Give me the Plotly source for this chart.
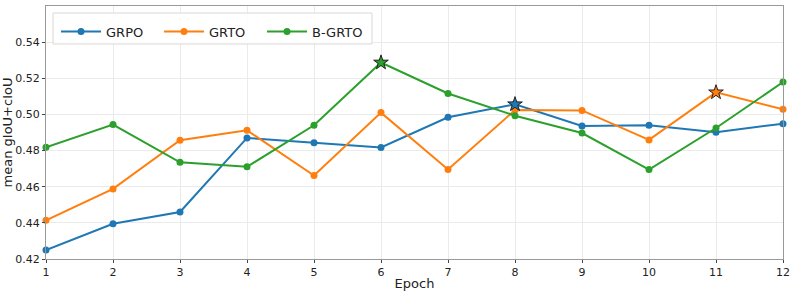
import plotly.graph_objects as go
import numpy as np

epochs = list(range(1, 13))
grpo = [0.4250, 0.4395, 0.4460, 0.4870, 0.4843, 0.4817, 0.4984, 0.5056, 0.4936, 0.4940, 0.4901, 0.4949]
grto = [0.4414, 0.4588, 0.4857, 0.4912, 0.4662, 0.5010, 0.4695, 0.5024, 0.5022, 0.4859, 0.5122, 0.5028]
bgrto = [0.4818, 0.4944, 0.4735, 0.4710, 0.4940, 0.5287, 0.5116, 0.4993, 0.4897, 0.4695, 0.4925, 0.5179]
y_ticks = [0.42, 0.44, 0.46, 0.48, 0.50, 0.52, 0.54]

names = ["GRPO", "GRTO", "B-GRTO"]
series = [grpo, grto, bgrto]
colors = ["#1f77b4", "#ff7f0e", "#2ca02c"]

fig = go.Figure()
for name, vals, c in zip(names, series, colors):
    fig.add_trace(go.Scatter(
        x=epochs, y=vals, mode="lines+markers", name=name,
        line=dict(color=c, width=2), marker=dict(color=c, size=7),
        cliponaxis=False,
    ))
for name, vals, c in zip(names, series, colors):
    i = int(np.argmax(vals))
    fig.add_trace(go.Scatter(
        x=[epochs[i]], y=[vals[i]], mode="markers", showlegend=False,
        marker=dict(symbol="star", size=11, color=c, line=dict(color="#222222", width=1)),
        cliponaxis=False,
    ))

axis_common = dict(
    showline=True, linecolor="#999999", linewidth=1, mirror=True,
    showgrid=True, gridcolor="#ebebeb", gridwidth=1,
    ticks="outside", ticklen=3, tickcolor="#444444",
    tickfont=dict(family="DejaVu Sans", size=11, color="#222222"),
    zeroline=False, automargin=False,
)
fig.update_xaxes(range=[1, 12], tickvals=epochs, **axis_common,
                 title=dict(text="Epoch", font=dict(family="DejaVu Sans", size=13, color="#222222"), standoff=0))
fig.update_yaxes(range=[0.42, 0.56], tickvals=y_ticks,
                 tickformat=".2f", **axis_common,
                 title=dict(text="mean gIoU+cIoU", font=dict(family="DejaVu Sans", size=13, color="#222222"), standoff=2))

# legend frame
fig.add_shape(type="rect", xref="paper", yref="paper",
              x0=0.0095, x1=0.4423, y0=0.8498, y1=0.9723,
              line=dict(color="#d8d8d8", width=1), fillcolor="rgba(255,255,255,0.85)", layer="above")

fig.update_layout(
    width=795, height=295,
    margin=dict(l=46, r=12, t=6, b=36),
    plot_bgcolor="white", paper_bgcolor="white",
    font=dict(family="DejaVu Sans", color="#222222"),
    legend=dict(
        orientation="h", x=0.0136, y=0.958, xanchor="left", yanchor="top",
        bgcolor="rgba(0,0,0,0)", borderwidth=0,
        font=dict(family="DejaVu Sans", size=13, color="#222222"),
        entrywidth=48, itemwidth=40,
    ),
)

fig.write_html("out.html")
